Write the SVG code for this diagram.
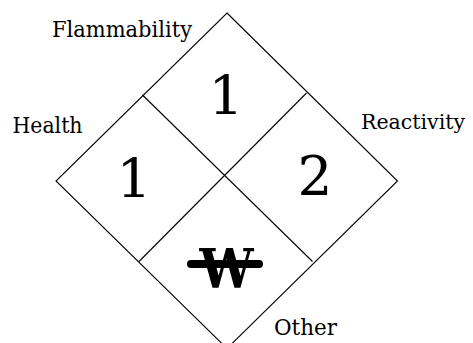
<svg xmlns="http://www.w3.org/2000/svg" width="473" height="343" viewBox="0 0 473 343">
<style>
.ln{fill:none;stroke:#000;stroke-width:1.1}
text{font-family:'DejaVu Serif',serif;fill:#000}
.lbl{font-size:23px}
.num{font-size:55px;text-anchor:middle}
</style>
<rect width="473" height="343" fill="#fff"/>
<g id="diamond">
<polygon class="ln" points="227,13 397.5,181 227,348.5 56,181"/>
</g>
<g id="connectors">
<line class="ln" x1="142.5" y1="95" x2="312.5" y2="261.5"/>
<line class="ln" x1="306.5" y1="93" x2="139" y2="261.5"/>
</g>
<g id="flammability">
<text class="lbl" x="52" y="37" textLength="140" lengthAdjust="spacingAndGlyphs">Flammability</text>
<text class="num" x="226" y="115">1</text>
</g>
<g id="health">
<text class="lbl" x="12.5" y="133" textLength="70" lengthAdjust="spacingAndGlyphs">Health</text>
<text class="num" x="134" y="198">1</text>
</g>
<g id="reactivity">
<text x="361" y="128.5" style="font-size:20.5px">Reactivity</text>
<text class="num" x="315" y="195">2</text>
</g>
<g id="other">
<text class="lbl" x="274" y="335" textLength="63" lengthAdjust="spacingAndGlyphs">Other</text>
<text class="num" x="226.5" y="288" font-weight="bold" font-size="55" textLength="54" lengthAdjust="spacingAndGlyphs">W</text>
<line x1="191" y1="264" x2="259" y2="264" stroke="#000" stroke-width="8" stroke-linecap="round"/>
</g>
</svg>
